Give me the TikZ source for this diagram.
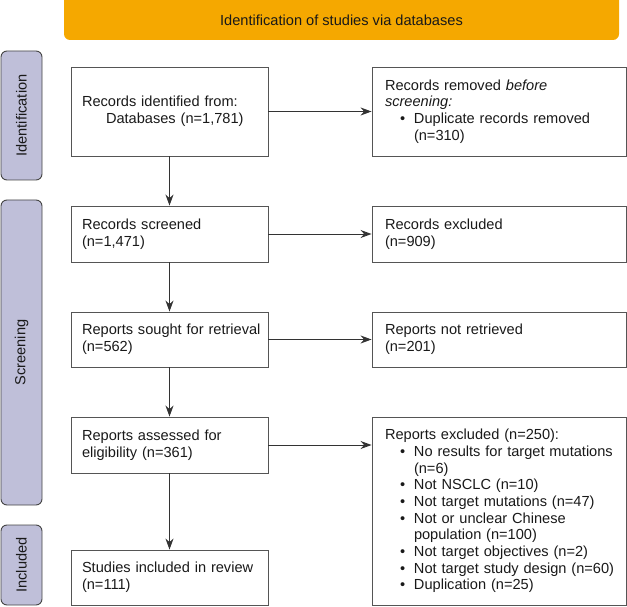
\documentclass[tikz,border=0pt]{standalone}
\usepackage{fontspec}
\setmainfont{Liberation Sans}
\usetikzlibrary{arrows.meta}
\definecolor{bannerorange}{HTML}{F5A800}
\definecolor{phasefill}{HTML}{BFBFD9}
\definecolor{phaseline}{HTML}{444444}
\definecolor{boxline}{HTML}{555555}
\definecolor{arrowgray}{HTML}{333333}
\newcommand{\pbul}{\makebox[29pt][l]{\hspace{15pt}•}}
\newcommand{\pcont}{\hspace*{29pt}}
\hfuzz=20pt
\begin{document}
\begin{tikzpicture}[x=1pt,y=-1pt,
  every node/.style={font=\fontsize{14.6}{16.7}\selectfont, text=black!90},
  flowbox/.style={draw=boxline, line width=0.9pt, align=left, inner ysep=0pt, anchor=center},
  leftbox/.style={flowbox, text width=175pt, inner xsep=11pt, minimum height=#1},
  rightbox/.style={flowbox, text width=228pt, inner xsep=13pt, minimum height=#1},
  phase/.style={draw=phaseline, fill=phasefill, rounded corners=6pt, line width=0.9pt,
    rotate=90, minimum height=41pt, minimum width=#1, inner sep=0pt},
  arr/.style={draw=arrowgray, line width=0.9pt, -{Stealth[length=11pt,width=8pt]}}]
\useasboundingbox (0,0) rectangle (627,607);
% banner
\fill[bannerorange, rounded corners=6pt] (64,-8) rectangle (619,40);
\node (banner) at (341.5,20) {Identification of studies via databases};
% phase labels
\node[phase=129pt] (pident) at (21.5,115.5) {Identification};
\node[phase=305pt] (pscreen) at (21.5,352.5) {Screening};
\node[phase=80pt] (pincl) at (21.5,565) {Included};
% left column
\node[leftbox=89pt] (ident) at (169.5,111.5) {Records identified from:\\\hspace*{24pt}Databases (n=1,781)};
\node[leftbox=56pt] (screen) at (169.5,234) {Records screened\\(n=1,471)};
\node[leftbox=55pt] (sought) at (169.5,339.5) {\mbox{Reports sought for retrieval}\\(n=562)};
\node[leftbox=56pt] (assess) at (169.5,445) {Reports assessed for\\eligibility (n=361)};
\node[leftbox=55pt] (incl) at (169.5,577.5) {Studies included in review\\(n=111)};
% right column
\node[rightbox=89pt] (removed) at (499,111.5) {Records removed \textit{before}\\\textit{screening:}\\\pbul Duplicate records removed\\\pcont(n=310)};
\node[rightbox=56pt] (excl) at (499,234) {Records excluded\\(n=909)};
\node[rightbox=55pt] (notret) at (499,339.5) {Reports not retrieved\\(n=201)};
\node[rightbox=188pt] (repexcl) at (499,511) {Reports excluded (n=250):\\
\pbul\mbox{No results for target mutations}\\
\pcont(n=6)\\
\pbul Not NSCLC (n=10)\\
\pbul Not target mutations (n=47)\\
\pbul Not or unclear Chinese\\
\pcont population (n=100)\\
\pbul Not target objectives (n=2)\\
\pbul\mbox{Not target study design (n=60)}\\
\pbul Duplication (n=25)};
% arrows
\draw[arr] (ident) -- (screen);
\draw[arr] (screen) -- (sought);
\draw[arr] (sought) -- (assess);
\draw[arr] (assess) -- (incl);
\draw[arr] (ident) -- (removed);
\draw[arr] (screen) -- (excl);
\draw[arr] (sought) -- (notret);
\draw[arr] (assess.east) -- (assess.east -| repexcl.west);
\end{tikzpicture}
\end{document}
